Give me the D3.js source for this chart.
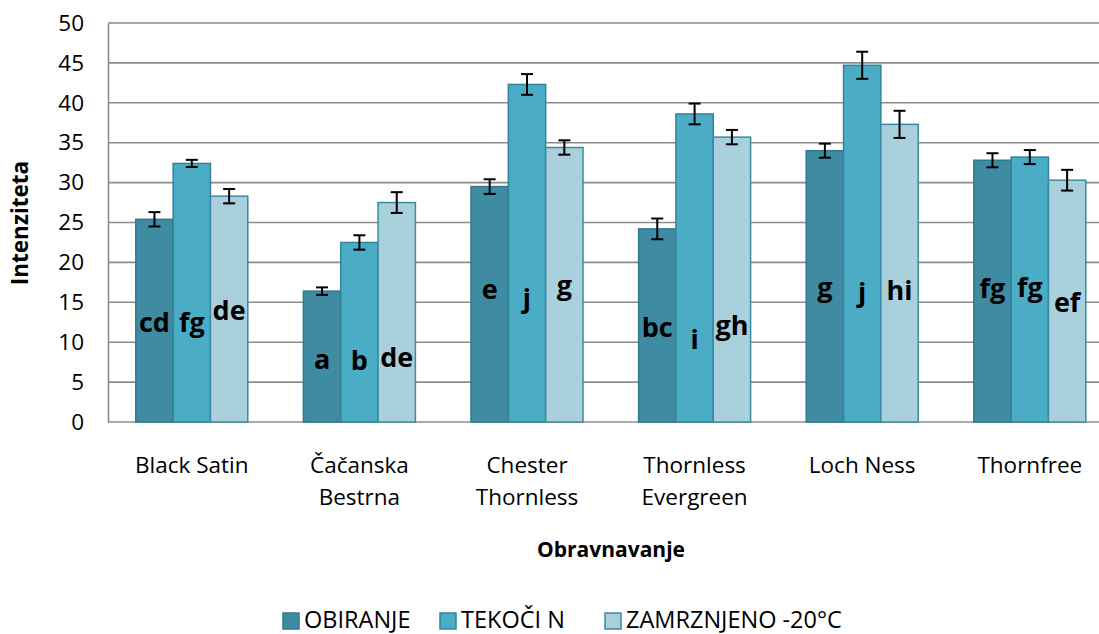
<!DOCTYPE html>
<html>
<head>
<meta charset="utf-8">
<script src="https://cdn.jsdelivr.net/npm/d3@7"></script>
<style>
  html, body { margin: 0; padding: 0; background: #ffffff; }
  svg { display: block; font-family: "Open Sans", "Noto Sans", sans-serif; }
</style>
</head>
<body>
<svg id="chart" width="1099" height="634"></svg>
<script>
// Cultivars (line breaks mark the two-line axis labels)
const categories = ["Black Satin", "Čačanska\nBestrna", "Chester\nThornless", "Thornless\nEvergreen", "Loch Ness", "Thornfree"];
const seriesNames = ["OBIRANJE", "TEKOČI N", "ZAMRZNJENO -20°C"];

// Mean intensity per treatment
const obiranje = [25.4, 16.4, 29.5, 24.2, 34.0, 32.8];
const tekociN  = [32.4, 22.5, 42.3, 38.6, 44.7, 33.2];
const zamrznjeno = [28.3, 27.5, 34.4, 35.7, 37.3, 30.3];

// Standard errors
const errObiranje = [0.9, 0.47, 0.92, 1.3, 0.88, 0.88];
const errTekociN = [0.45, 0.9, 1.3, 1.3, 1.7, 0.88];
const errZamrznjeno = [0.9, 1.3, 0.9, 0.9, 1.7, 1.3];

// Significance letters
const lettersObiranje = ["cd", "a", "e", "bc", "g", "fg"];
const lettersTekociN = ["fg", "b", "j", "i", "j", "fg"];
const lettersZamrznjeno = ["de", "de", "g", "gh", "hi", "ef"];

// Baseline of each letter label, in axis units
const letterBaseObiranje = [11.3, 6.7, 15.4, 10.7, 15.7, 15.5];
const letterBaseTekociN = [11.3, 6.5, 14.3, 9.2, 15.1, 15.7];
const letterBaseZamrznjeno = [12.8, 6.85, 15.9, 10.9, 15.3, 13.8];

const yTicks = [0, 5, 10, 15, 20, 25, 30, 35, 40, 45, 50];

const values = [obiranje, tekociN, zamrznjeno];
const errors = [errObiranje, errTekociN, errZamrznjeno];
const letters = [lettersObiranje, lettersTekociN, lettersZamrznjeno];
const letterBase = [letterBaseObiranje, letterBaseTekociN, letterBaseZamrznjeno];

const fills = ["#3e8ba2", "#4bacc6", "#aacfdd"];
const strokes = ["#2f7a90", "#33849b", "#3a8aa0"];

const W = 1099, H = 634;
const plotLeft = 108, plotTop = 23, plotBottom = 422;
const svg = d3.select("#chart");

const x0 = d3.scaleBand().domain(d3.range(categories.length)).range([plotLeft, plotLeft + 6 * 167.6]).padding(0);
const x1 = d3.scaleBand().domain(d3.range(3)).range([27.8, 167.6 - 27.8]).padding(0);
const y = d3.scaleLinear().domain([0, 50]).range([plotBottom, plotTop]);

// Horizontal gridlines
svg.append("g")
  .selectAll("line").data(yTicks).join("line")
  .attr("x1", plotLeft).attr("x2", W)
  .attr("y1", d => y(d)).attr("y2", d => y(d))
  .attr("stroke", "#8c8c8c").attr("stroke-width", 1.6);

// Value axis
const yAxis = d3.axisLeft(y).tickValues(yTicks).tickSize(0).tickPadding(24);
const gy = svg.append("g").attr("transform", `translate(${plotLeft},0)`).call(yAxis);
gy.select(".domain").attr("stroke", "#8c8c8c").attr("stroke-width", 1.6);
gy.selectAll("text").attr("font-size", 22.5).attr("fill", "#000").attr("font-family", "Open Sans");

// Bars
const groups = svg.append("g").selectAll("g").data(categories).join("g")
  .attr("transform", (d, i) => `translate(${x0(i)},0)`);

groups.each(function (cat, ci) {
  const g = d3.select(this);
  for (let s = 0; s < 3; s++) {
    const v = values[s][ci];
    g.append("rect")
      .attr("x", x1(s)).attr("width", x1.bandwidth())
      .attr("y", y(v)).attr("height", y(0) - y(v))
      .attr("fill", fills[s]).attr("stroke", strokes[s]).attr("stroke-width", 1.5);
  }
  for (let s = 0; s < 3; s++) {
    const v = values[s][ci], e = errors[s][ci];
    const cx = x1(s) + x1.bandwidth() / 2;
    g.append("line").attr("x1", cx).attr("x2", cx)
      .attr("y1", y(v + e)).attr("y2", y(v - e))
      .attr("stroke", "#000").attr("stroke-width", 2);
    [v + e, v - e].forEach(t => {
      g.append("line").attr("x1", cx - 6).attr("x2", cx + 6)
        .attr("y1", y(t)).attr("y2", y(t))
        .attr("stroke", "#000").attr("stroke-width", 2);
    });
    g.append("text")
      .attr("x", cx).attr("y", y(letterBase[s][ci]))
      .attr("text-anchor", "middle")
      .attr("font-size", 27).attr("font-weight", "bold").attr("fill", "#000")
      .text(letters[s][ci]);
  }
});

// Category labels
const gx = svg.append("g");
categories.forEach((c, i) => {
  const t = gx.append("text")
    .attr("x", x0(i) + x0.bandwidth() / 2).attr("y", 473)
    .attr("text-anchor", "middle").attr("font-size", 22.5).attr("fill", "#000");
  c.split("\n").forEach((line, k) => {
    t.append("tspan").attr("x", x0(i) + x0.bandwidth() / 2).attr("dy", k === 0 ? 0 : 32).text(line);
  });
});

// Axis titles
svg.append("text")
  .attr("transform", "translate(28,223) rotate(-90)")
  .attr("text-anchor", "middle").attr("font-size", 22.5).attr("font-weight", "bold")
  .text("Intenziteta");

svg.append("text")
  .attr("x", 611).attr("y", 557)
  .attr("text-anchor", "middle").attr("font-size", 21).attr("font-weight", "bold")
  .text("Obravnavanje");

// Legend
const legendX = [283, 440, 605];
const legend = svg.append("g");
seriesNames.forEach((name, s) => {
  legend.append("rect")
    .attr("x", legendX[s]).attr("y", 613).attr("width", 16).attr("height", 16)
    .attr("fill", fills[s]).attr("stroke", strokes[s]).attr("stroke-width", 1.5);
  legend.append("text")
    .attr("x", legendX[s] + 21).attr("y", 628)
    .attr("font-size", 23.5).attr("fill", "#000")
    .text(name);
});
</script>
</body>
</html>
